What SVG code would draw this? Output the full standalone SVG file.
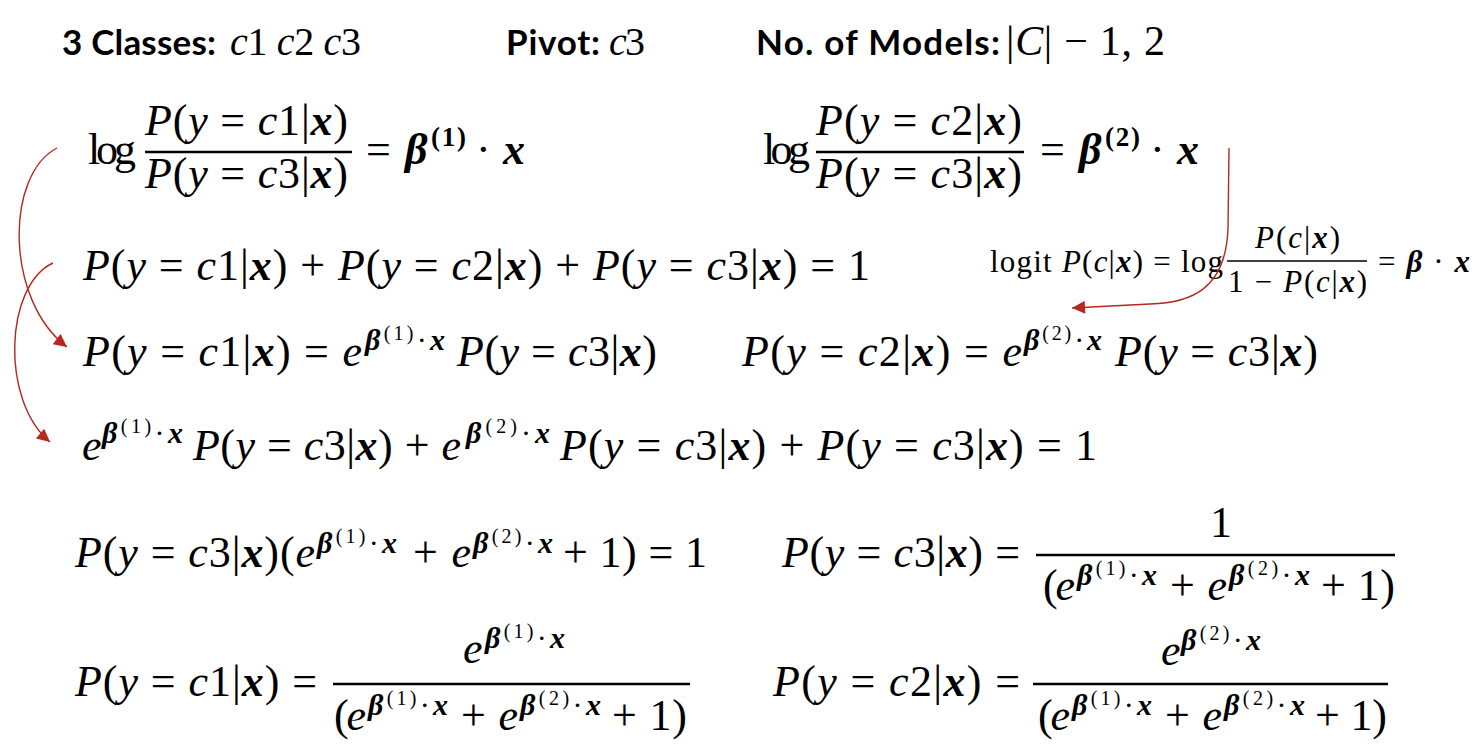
<svg xmlns="http://www.w3.org/2000/svg" width="1484" height="756" viewBox="0 0 1484 756">
<defs>
<style>
.m{font-family:"Liberation Serif","DejaVu Serif",serif;font-size:44px;fill:#000}
.s{font-size:30px}
.t{font-size:31px}
.hm{font-size:40px}
.h{font-family:Lato,"Liberation Sans",sans-serif;font-weight:bold;font-size:35px;fill:#000}
.i{font-style:italic}
.b{font-style:italic;font-weight:bold}
.bar{stroke:#000;stroke-width:2.4}
.bart{stroke:#000;stroke-width:1.6}
.arr{fill:none;stroke:#b5271f;stroke-width:1.4;marker-end:url(#ah)}
</style>
<marker id="ah" viewBox="0 0 10 10" refX="10" refY="5" markerWidth="15" markerHeight="13" markerUnits="userSpaceOnUse" orient="auto"><path d="M0,0 L10,5 L0,10 z" fill="#b5271f"/></marker>
</defs>
<rect width="1484" height="756" fill="#fff"/>

<g id="header">
<text class="h" x="62" y="55" textLength="154">3 Classes:</text>
<text class="m hm" x="230" y="55" textLength="131"><tspan class="i">c</tspan>1 <tspan class="i">c</tspan>2 <tspan class="i">c</tspan>3</text>
<text class="h" x="506" y="55" textLength="94">Pivot:</text>
<text class="m hm" x="609" y="55" textLength="36"><tspan class="i">c</tspan>3</text>
<text class="h" x="756" y="55" textLength="244">No. of Models:</text>
<text class="m" style="font-size:42px" x="1006" y="55" textLength="159">|<tspan class="i">C</tspan>| − 1, 2</text>
</g>

<g id="eq-log1">
<text class="m" x="88" y="164" textLength="48">log</text>
<text class="m" x="145" y="135" textLength="203"><tspan class="i">P</tspan>(<tspan class="i">y</tspan> = <tspan class="i">c</tspan>1|<tspan class="b">x</tspan>)</text>
<line class="bar" x1="145" y1="152" x2="352" y2="152"/>
<text class="m" x="145" y="188" textLength="203"><tspan class="i">P</tspan>(<tspan class="i">y</tspan> = <tspan class="i">c</tspan>3|<tspan class="b">x</tspan>)</text>
<text class="m" x="366" y="164" textLength="29">=</text>
<text class="m b" x="405" y="164">β</text>
<text class="m" style="font-size:27px;font-weight:bold" x="431" y="146" textLength="35">(1)</text>
<text class="m" x="476" y="164">·</text>
<text class="m b" x="503" y="164">x</text>
</g>

<g id="eq-log2">
<text class="m" x="763" y="164" textLength="47">log</text>
<text class="m" x="816" y="135" textLength="206"><tspan class="i">P</tspan>(<tspan class="i">y</tspan> = <tspan class="i">c</tspan>2|<tspan class="b">x</tspan>)</text>
<line class="bar" x1="816" y1="152" x2="1024" y2="152"/>
<text class="m" x="816" y="188" textLength="206"><tspan class="i">P</tspan>(<tspan class="i">y</tspan> = <tspan class="i">c</tspan>3|<tspan class="b">x</tspan>)</text>
<text class="m" x="1040" y="164" textLength="29">=</text>
<text class="m b" x="1079" y="164">β</text>
<text class="m" style="font-size:27px;font-weight:bold" x="1105" y="146" textLength="35">(2)</text>
<text class="m" x="1150" y="164">·</text>
<text class="m b" x="1177" y="164">x</text>
</g>

<g id="eq-logit">
<text class="m t" x="990" y="272" textLength="233">logit <tspan class="i">P</tspan>(<tspan class="i">c</tspan>|<tspan class="b">x</tspan>) = log</text>
<text class="m t" x="1255" y="248" textLength="85"><tspan class="i">P</tspan>(<tspan class="i">c</tspan>|<tspan class="b">x</tspan>)</text>
<line class="bart" x1="1227" y1="261" x2="1367" y2="261"/>
<text class="m t" x="1228" y="292" textLength="139">1 − <tspan class="i">P</tspan>(<tspan class="i">c</tspan>|<tspan class="b">x</tspan>)</text>
<text class="m t" x="1378" y="272" textLength="92">= <tspan class="b">β</tspan> · <tspan class="b">x</tspan></text>
</g>

<g id="eq-sum">
<text class="m" x="83" y="280" textLength="787"><tspan class="i">P</tspan>(<tspan class="i">y</tspan> = <tspan class="i">c</tspan>1|<tspan class="b">x</tspan>) + <tspan class="i">P</tspan>(<tspan class="i">y</tspan> = <tspan class="i">c</tspan>2|<tspan class="b">x</tspan>) + <tspan class="i">P</tspan>(<tspan class="i">y</tspan> = <tspan class="i">c</tspan>3|<tspan class="b">x</tspan>) = 1</text>
</g>

<g id="eq-c1">
<text class="m" x="83" y="366" textLength="279"><tspan class="i">P</tspan>(<tspan class="i">y</tspan> = <tspan class="i">c</tspan>1|<tspan class="b">x</tspan>) = <tspan class="i">e</tspan></text>
<text class="m s" x="365" y="350" textLength="80"><tspan class="b">β</tspan><tspan style="font-size:20px" dy="-10">(1)</tspan><tspan dy="10">·</tspan><tspan class="b">x</tspan></text>
<text class="m" x="457" y="366" textLength="200"><tspan class="i">P</tspan>(<tspan class="i">y</tspan> = <tspan class="i">c</tspan>3|<tspan class="b">x</tspan>)</text>
</g>

<g id="eq-c2">
<text class="m" x="742" y="366" textLength="280"><tspan class="i">P</tspan>(<tspan class="i">y</tspan> = <tspan class="i">c</tspan>2|<tspan class="b">x</tspan>) = <tspan class="i">e</tspan></text>
<text class="m s" x="1024" y="350" textLength="78"><tspan class="b">β</tspan><tspan style="font-size:20px" dy="-10">(2)</tspan><tspan dy="10">·</tspan><tspan class="b">x</tspan></text>
<text class="m" x="1115" y="366" textLength="203"><tspan class="i">P</tspan>(<tspan class="i">y</tspan> = <tspan class="i">c</tspan>3|<tspan class="b">x</tspan>)</text>
</g>

<g id="eq-expsum">
<text class="m i" x="82" y="460" textLength="19">e</text>
<text class="m s" x="102" y="443" textLength="81"><tspan class="b">β</tspan><tspan style="font-size:20px" dy="-10">(1)</tspan><tspan dy="10">·</tspan><tspan class="b">x</tspan></text>
<text class="m" x="193" y="460" textLength="268"><tspan class="i">P</tspan>(<tspan class="i">y</tspan> = <tspan class="i">c</tspan>3|<tspan class="b">x</tspan>) + <tspan class="i">e</tspan></text>
<text class="m s" x="466" y="443" textLength="84"><tspan class="b">β</tspan><tspan style="font-size:20px" dy="-10">(2)</tspan><tspan dy="10">·</tspan><tspan class="b">x</tspan></text>
<text class="m" x="560" y="460" textLength="537"><tspan class="i">P</tspan>(<tspan class="i">y</tspan> = <tspan class="i">c</tspan>3|<tspan class="b">x</tspan>) + <tspan class="i">P</tspan>(<tspan class="i">y</tspan> = <tspan class="i">c</tspan>3|<tspan class="b">x</tspan>) = 1</text>
</g>

<g id="eq-factor">
<text class="m" x="75" y="567" textLength="240"><tspan class="i">P</tspan>(<tspan class="i">y</tspan> = <tspan class="i">c</tspan>3|<tspan class="b">x</tspan>)(<tspan class="i">e</tspan></text>
<text class="m s" x="317" y="553" textLength="80"><tspan class="b">β</tspan><tspan style="font-size:20px" dy="-10">(1)</tspan><tspan dy="10">·</tspan><tspan class="b">x</tspan></text>
<text class="m" x="413" y="567" textLength="58">+ <tspan class="i">e</tspan></text>
<text class="m s" x="473" y="553" textLength="80"><tspan class="b">β</tspan><tspan style="font-size:20px" dy="-10">(2)</tspan><tspan dy="10">·</tspan><tspan class="b">x</tspan></text>
<text class="m" x="563" y="567" textLength="144">+ 1) = 1</text>
</g>

<g id="eq-pc3">
<text class="m" x="782" y="567" textLength="238"><tspan class="i">P</tspan>(<tspan class="i">y</tspan> = <tspan class="i">c</tspan>3|<tspan class="b">x</tspan>) =</text>
<text class="m" x="1210" y="537" textLength="19">1</text>
<line class="bar" x1="1036" y1="555" x2="1395" y2="555"/>
<text class="m" x="1043" y="600" textLength="32">(<tspan class="i">e</tspan></text>
<text class="m s" x="1077" y="585" textLength="80"><tspan class="b">β</tspan><tspan style="font-size:20px" dy="-10">(1)</tspan><tspan dy="10">·</tspan><tspan class="b">x</tspan></text>
<text class="m" x="1170" y="600" textLength="57">+ <tspan class="i">e</tspan></text>
<text class="m s" x="1229" y="585" textLength="81"><tspan class="b">β</tspan><tspan style="font-size:20px" dy="-10">(2)</tspan><tspan dy="10">·</tspan><tspan class="b">x</tspan></text>
<text class="m" x="1321" y="600" textLength="74">+ 1)</text>
</g>

<g id="eq-pc1">
<text class="m" x="75" y="696" textLength="242"><tspan class="i">P</tspan>(<tspan class="i">y</tspan> = <tspan class="i">c</tspan>1|<tspan class="b">x</tspan>) =</text>
<text class="m i" x="463" y="663" textLength="20">e</text>
<text class="m s" x="485" y="648" textLength="80"><tspan class="b">β</tspan><tspan style="font-size:20px" dy="-10">(1)</tspan><tspan dy="10">·</tspan><tspan class="b">x</tspan></text>
<line class="bar" x1="333" y1="684" x2="690" y2="684"/>
<text class="m" x="334" y="730" textLength="32">(<tspan class="i">e</tspan></text>
<text class="m s" x="368" y="715" textLength="80"><tspan class="b">β</tspan><tspan style="font-size:20px" dy="-10">(1)</tspan><tspan dy="10">·</tspan><tspan class="b">x</tspan></text>
<text class="m" x="461" y="730" textLength="57">+ <tspan class="i">e</tspan></text>
<text class="m s" x="520" y="715" textLength="81"><tspan class="b">β</tspan><tspan style="font-size:20px" dy="-10">(2)</tspan><tspan dy="10">·</tspan><tspan class="b">x</tspan></text>
<text class="m" x="612" y="730" textLength="75">+ 1)</text>
</g>

<g id="eq-pc2">
<text class="m" x="773" y="696" textLength="247"><tspan class="i">P</tspan>(<tspan class="i">y</tspan> = <tspan class="i">c</tspan>2|<tspan class="b">x</tspan>) =</text>
<text class="m i" x="1161" y="665" textLength="19">e</text>
<text class="m s" x="1181" y="650" textLength="80"><tspan class="b">β</tspan><tspan style="font-size:20px" dy="-10">(2)</tspan><tspan dy="10">·</tspan><tspan class="b">x</tspan></text>
<line class="bar" x1="1033" y1="684" x2="1388" y2="684"/>
<text class="m" x="1038" y="730" textLength="32">(<tspan class="i">e</tspan></text>
<text class="m s" x="1072" y="715" textLength="80"><tspan class="b">β</tspan><tspan style="font-size:20px" dy="-10">(1)</tspan><tspan dy="10">·</tspan><tspan class="b">x</tspan></text>
<text class="m" x="1165" y="730" textLength="57">+ <tspan class="i">e</tspan></text>
<text class="m s" x="1224" y="715" textLength="81"><tspan class="b">β</tspan><tspan style="font-size:20px" dy="-10">(2)</tspan><tspan dy="10">·</tspan><tspan class="b">x</tspan></text>
<text class="m" x="1315" y="730" textLength="72">+ 1)</text>
</g>

<g id="connectors">
<path class="arr" d="M57,148 C5,175 5,300 67,347"/>
<path class="arr" d="M53,263 C5,285 0,400 50,442"/>
<path class="arr" d="M1229,148 L1228,228 C1226,290 1190,303 1150,304 L1072,308"/>
</g>
</svg>
